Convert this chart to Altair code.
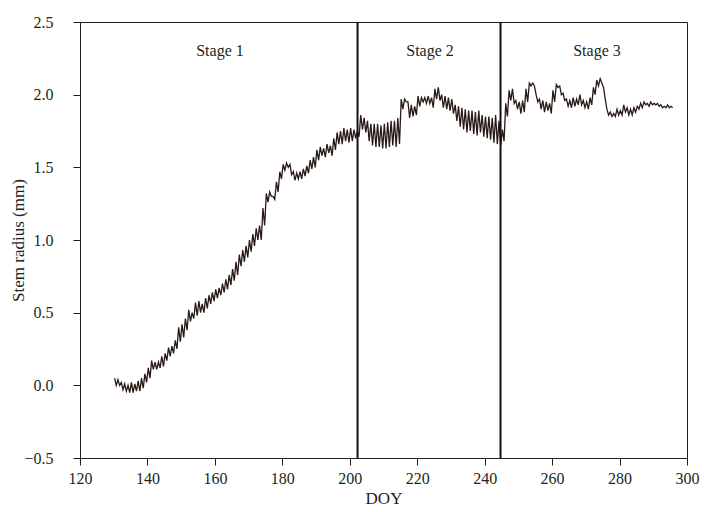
import altair as alt
import pandas as pd

# Day of year (one entry per day) with daily high and low stem radius (mm)
doy = list(range(130, 296))
daily_high = [
    0.05, 0.04, 0.02, 0.01, 0.00, 0.02, 0.01, 0.03, 0.05, 0.08,
    0.12, 0.17, 0.16, 0.16, 0.20, 0.22, 0.26, 0.27, 0.31, 0.40,
    0.42, 0.46, 0.52, 0.50, 0.57, 0.58, 0.56, 0.60, 0.62, 0.64,
    0.66, 0.67, 0.70, 0.73, 0.76, 0.80, 0.85, 0.90, 0.93, 0.96,
    1.00, 1.04, 1.08, 1.10, 1.22, 1.32, 1.33, 1.30, 1.40, 1.47,
    1.52, 1.53, 1.52, 1.47, 1.46, 1.47, 1.49, 1.51, 1.55, 1.57,
    1.62, 1.64, 1.63, 1.66, 1.65, 1.70, 1.74, 1.75, 1.77, 1.76,
    1.77, 1.76, 1.75, 1.86, 1.84, 1.82, 1.80, 1.80, 1.80, 1.79,
    1.80, 1.81, 1.82, 1.82, 1.84, 1.97, 1.97, 1.95, 1.93, 1.92,
    1.99, 1.98, 1.98, 1.99, 1.98, 2.04, 2.05, 2.00, 1.99, 1.98,
    1.97, 1.93, 1.92, 1.91, 1.90, 1.89, 1.89, 1.88, 1.89, 1.86,
    1.85, 1.85, 1.84, 1.86, 1.82, 1.76, 1.94, 2.03, 2.04, 1.96,
    1.95, 1.96, 2.04, 2.08, 2.08, 2.00, 1.97, 1.96, 1.95, 1.94,
    2.03, 2.07, 2.06, 2.01, 1.97, 1.96, 1.98, 1.97, 2.00, 1.96,
    1.95, 1.98, 2.05, 2.10, 2.11, 2.05, 1.90, 1.88, 1.87, 1.90,
    1.89, 1.93, 1.91, 1.90, 1.91, 1.92, 1.94, 1.95, 1.94, 1.95,
    1.94, 1.94, 1.93, 1.92, 1.93, 1.92,
]
daily_low = [
    0.00, 0.00, -0.03, -0.04, -0.05, -0.05, -0.04, -0.04, -0.02, 0.02,
    0.05, 0.11, 0.11, 0.12, 0.13, 0.17, 0.20, 0.22, 0.25, 0.30,
    0.33, 0.38, 0.44, 0.46, 0.48, 0.50, 0.50, 0.53, 0.56, 0.58,
    0.60, 0.62, 0.64, 0.66, 0.69, 0.72, 0.76, 0.82, 0.85, 0.88,
    0.92, 0.96, 1.00, 1.00, 1.10, 1.26, 1.30, 1.28, 1.33, 1.42,
    1.48, 1.50, 1.45, 1.41, 1.42, 1.42, 1.44, 1.46, 1.49, 1.50,
    1.55, 1.58, 1.57, 1.60, 1.58, 1.62, 1.66, 1.66, 1.68, 1.67,
    1.68, 1.70, 1.71, 1.76, 1.74, 1.68, 1.65, 1.64, 1.64, 1.63,
    1.63, 1.64, 1.65, 1.64, 1.66, 1.90, 1.95, 1.84, 1.85, 1.86,
    1.92, 1.95, 1.94, 1.94, 1.91, 1.97, 1.96, 1.91, 1.90, 1.89,
    1.87, 1.82, 1.78, 1.76, 1.74, 1.75, 1.73, 1.72, 1.74, 1.71,
    1.70, 1.69, 1.67, 1.66, 1.65, 1.68, 1.85, 1.96, 1.94, 1.90,
    1.87, 1.88, 1.95, 2.06, 2.06, 1.95, 1.90, 1.88, 1.89, 1.87,
    1.95, 2.05, 2.00, 1.96, 1.92, 1.91, 1.92, 1.93, 1.93, 1.91,
    1.90, 1.93, 2.00, 2.06, 2.08, 1.97, 1.86, 1.85, 1.85, 1.86,
    1.86, 1.88, 1.86, 1.86, 1.88, 1.90, 1.91, 1.93, 1.92, 1.93,
    1.93, 1.92, 1.91, 1.91, 1.91, 1.91,
]

stage_bounds = [202.3, 244.7]
stage_names = ["Stage 1", "Stage 2", "Stage 3"]
stage_label_x = [161.5, 223.8, 273.3]
stage_label_y = [2.3, 2.3, 2.3]

x_ticks = [120, 140, 160, 180, 200, 220, 240, 260, 280, 300]
y_ticks = [-0.5, 0.0, 0.5, 1.0, 1.5, 2.0, 2.5]

rows = []
for d, h, l in zip(doy, daily_high, daily_low):
    rows.append({"DOY": d + 0.25, "r": h})
    rows.append({"DOY": d + 0.75, "r": l})
series = pd.DataFrame(rows)

FONT = "Liberation Serif"
INK = "#231f20"

x_scale = alt.Scale(domain=[120, 300], nice=False, zero=False)
y_scale = alt.Scale(domain=[-0.5, 2.5], nice=False, zero=False)

line = alt.Chart(series).mark_line(color="#2a1a17", strokeWidth=1.3).encode(
    x=alt.X("DOY:Q", scale=x_scale,
            axis=alt.Axis(values=x_ticks, format="d", title="DOY",
                          grid=False, tickSize=7, tickColor=INK, domainColor=INK,
                          labelFlush=False, labelOverlap=False,
                          labelPadding=5, labelFontSize=16, labelFont=FONT, labelColor=INK,
                          titleFont=FONT, titleFontSize=17, titleFontWeight="normal",
                          titleColor=INK, titleY=40, titleBaseline="middle")),
    y=alt.Y("r:Q", scale=y_scale,
            axis=alt.Axis(values=y_ticks, format=".1f", title="Stem radius (mm)",
                          grid=False, tickSize=7, tickColor=INK, domainColor=INK,
                          labelFlush=False, labelOverlap=False,
                          labelPadding=20, labelFontSize=16, labelFont=FONT, labelColor=INK,
                          titleFont=FONT, titleFontSize=17, titleFontWeight="normal",
                          titleColor=INK, titleX=-62, titleY=218, titleBaseline="middle",
                          titleAngle=270)),
)

rules = alt.Chart(pd.DataFrame({"b": stage_bounds})).mark_rule(
    color="#111111", strokeWidth=2
).encode(x=alt.X("b:Q", scale=x_scale))

labels = alt.Chart(pd.DataFrame({"name": stage_names, "x": stage_label_x, "y": stage_label_y})).mark_text(
    font=FONT, fontSize=16, color=INK
).encode(
    x=alt.X("x:Q", scale=x_scale),
    y=alt.Y("y:Q", scale=y_scale),
    text="name:N",
)

chart = alt.layer(line, rules, labels).properties(
    width=607, height=436,
    autosize=alt.AutoSizeParams(type="none"),
    padding={"left": 80, "top": 22, "right": 17, "bottom": 54},
    background="white",
).configure_view(stroke=INK, strokeWidth=1)

chart.save("out.html", embed_options={"renderer": "svg", "actions": False})
